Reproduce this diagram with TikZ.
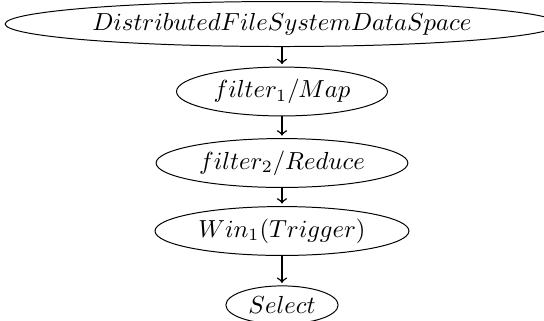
\documentclass[tikz,border=0pt]{standalone}
\usepackage{tikz}
\usetikzlibrary{shapes.geometric}

\begin{document}
\begin{tikzpicture}[x=0.405pt,y=-0.405pt,shorten >=1pt,
        op/.style={draw,ellipse,inner xsep=2.5pt,inner ysep=2pt}]
        \useasboundingbox (0,0) rectangle (544,320);
        \node[op] (DFS) at (282,24) {$DistributedFileSystemDataSpace$} ;
        \node[op] (F1) at (282,91.5) {$filter_1/Map$} ;
        \node[op] (F2) at (282,163) {$filter_2/Reduce$} ;
        \node[op] (W1) at (282,231) {$Win_1(Trigger)$} ;
        \node[op] (Sel) at (282,305) {$Select$} ;
        \draw
        (DFS) edge[->,semithick] (F1)
        (F1) edge[->,semithick] (F2)
        (F2) edge[->,semithick] (W1)
        (W1) edge[->,semithick] (Sel)
        ;
      \end{tikzpicture}
\end{document}
